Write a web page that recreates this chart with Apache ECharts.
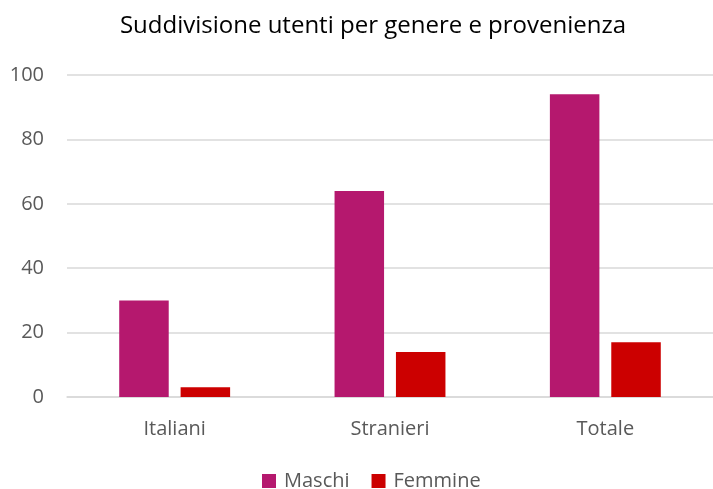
<!DOCTYPE html>
<html>
<head>
<meta charset="utf-8">
<script src="https://cdn.jsdelivr.net/npm/echarts@6/dist/echarts.min.js"></script>
<style>
html, body { margin: 0; padding: 0; background: #fff; }
#chart { width: 713px; height: 489px; }
</style>
</head>
<body>
<div id="chart"></div>
<script>
// dati
var categorie = ['Italiani', 'Stranieri', 'Totale'];
var maschi = [30, 64, 94];
var femmine = [3, 14, 17];
var yTicks = [0, 20, 40, 60, 80, 100];

var myChart = echarts.init(document.getElementById('chart'));
var font = 'Open Sans';

var option = {
	animation: false,
	title: {
		text: 'Suddivisione utenti per genere e provenienza',
		left: 368,
		textAlign: 'center',
		top: 9,
		textStyle: { fontFamily: font, fontSize: 24, fontWeight: 'normal', color: '#000' }
	},
	legend: {
		data: ['Maschi', 'Femmine'],
		top: 466,
		left: 257,
		itemWidth: 14,
		itemHeight: 14,
		itemGap: 22,
		icon: 'rect',
		textStyle: { fontFamily: font, fontSize: 20, color: '#595959', padding: [0, 0, 0, 3] }
	},
	grid: {
		left: 67,
		width: 649,
		top: 75,
		height: 322
	},
	xAxis: {
		type: 'category',
		data: categorie,
		axisLine: { lineStyle: { color: '#D9D9D9', width: 1.5 } },
		axisTick: { show: false },
		axisLabel: { fontFamily: font, fontSize: 20, color: '#595959', margin: 22 }
	},
	yAxis: {
		type: 'value',
		min: yTicks[0],
		max: yTicks[yTicks.length - 1],
		interval: 20,
		axisLine: { show: false },
		axisTick: { show: false },
		splitLine: { lineStyle: { color: '#D9D9D9', width: 1.5 } },
		axisLabel: { fontFamily: font, fontSize: 20, color: '#595959', margin: 23 }
	},
	series: [{
			name: 'Maschi',
			type: 'bar',
			data: maschi,
			barGap: '24%',
			barCategoryGap: '48.5%',
			itemStyle: { color: '#B5186E' }
		},
		{
			name: 'Femmine',
			type: 'bar',
			data: femmine,
			itemStyle: { color: '#CC0000' }
		}
	]
};
myChart.setOption(option);
</script>
</body>
</html>
